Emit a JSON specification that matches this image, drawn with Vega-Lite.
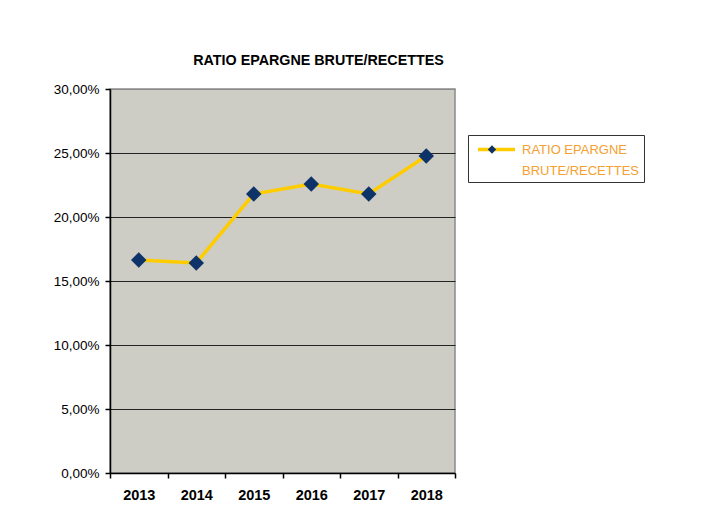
{
  "$schema": "https://vega.github.io/schema/vega-lite/v6.json",
  "autosize": {"type": "none"},
  "width": 345,
  "height": 384,
  "padding": {"left": 110, "top": 89, "right": 252, "bottom": 42},
  "background": "white",
  "title": {
    "text": "RATIO EPARGNE BRUTE/RECETTES",
    "font": "Liberation Sans",
    "fontSize": 14.3,
    "fontWeight": "bold",
    "color": "#000000",
    "anchor": "middle",
    "dx": 36,
    "offset": 14
  },
  "config": {
    "view": {"fill": "#CDCDC6", "stroke": "#8A8A8A", "strokeWidth": 1.5},
    "font": "Liberation Sans"
  },
  "data": {
    "values": [
      {"annee": "2013", "ratio": 16.64, "serie": "RATIO EPARGNE BRUTE/RECETTES"},
      {"annee": "2014", "ratio": 16.41, "serie": "RATIO EPARGNE BRUTE/RECETTES"},
      {"annee": "2015", "ratio": 21.80, "serie": "RATIO EPARGNE BRUTE/RECETTES"},
      {"annee": "2016", "ratio": 22.58, "serie": "RATIO EPARGNE BRUTE/RECETTES"},
      {"annee": "2017", "ratio": 21.80, "serie": "RATIO EPARGNE BRUTE/RECETTES"},
      {"annee": "2018", "ratio": 24.77, "serie": "RATIO EPARGNE BRUTE/RECETTES"}
    ]
  },
  "encoding": {
    "x": {
      "field": "annee",
      "type": "ordinal",
      "scale": {"paddingInner": 0, "paddingOuter": 0},
      "axis": {
        "title": null,
        "labelAngle": 0,
        "labelFont": "Liberation Sans",
        "labelFontSize": 14.5,
        "labelFontWeight": "bold",
        "labelColor": "#000000",
        "labelPadding": 10,
        "domainColor": "#000000",
        "domainWidth": 1.5,
        "tickColor": "#000000",
        "tickWidth": 1.5,
        "tickSize": 5,
        "tickBand": "extent",
        "grid": false
      }
    },
    "y": {
      "field": "ratio",
      "type": "quantitative",
      "scale": {"domain": [0, 30], "nice": false},
      "axis": {
        "title": null,
        "values": [0, 5, 10, 15, 20, 25, 30],
        "labelExpr": "replace(format(datum.value, '.2f'), '.', ',') + '%'",
        "labelFont": "Liberation Sans",
        "labelFontSize": 13.5,
        "labelColor": "#000000",
        "labelPadding": 6,
        "domainColor": "#000000",
        "domainWidth": 1.5,
        "tickColor": "#000000",
        "tickWidth": 1.5,
        "tickSize": 5,
        "grid": true,
        "gridColor": {"condition": {"test": "datum.value === 30 || datum.value === 0", "value": "#8A8A8A"}, "value": "#222222"},
        "gridWidth": 1.2
      }
    }
  },
  "layer": [
    {
      "mark": {"type": "line", "strokeWidth": 3.5},
      "encoding": {
        "stroke": {
          "field": "serie",
          "type": "nominal",
          "scale": {"range": ["#FFCC00"]},
          "legend": {
            "title": null,
            "orient": "none",
            "legendX": 358,
            "legendY": 46,
            "padding": 4,
            "symbolOffset": 4,
            "strokeColor": "#333333",
            "fillColor": "white",
            "symbolType": "stroke",
            "symbolSize": 1369,
            "symbolStrokeWidth": 3.5,
            "labelExpr": "['RATIO EPARGNE', 'BRUTE/RECETTES']",
            "labelFont": "Liberation Sans",
            "labelFontSize": 13,
            "labelColor": "#F5A030",
            "labelOffset": 5,
            "labelLimit": 300,
            "encode": {
              "labels": {"update": {"lineHeight": {"value": 21}, "dy": {"value": -10}}},
              "symbols": {"update": {"y": {"value": 10.5}}}
            }
          }
        }
      }
    },
    {
      "mark": {"type": "point", "shape": "diamond", "filled": true, "size": 240, "opacity": 1},
      "encoding": {
        "fill": {
          "field": "serie",
          "type": "nominal",
          "scale": {"range": ["#0E3369"]},
          "legend": {
            "title": null,
            "orient": "none",
            "legendX": 369,
            "legendY": 46,
            "padding": 4,
            "symbolOffset": 4,
            "symbolType": "diamond",
            "symbolSize": 70,
            "symbolStrokeWidth": 0,
            "symbolOpacity": 1,
            "labelExpr": "''",
            "encode": {
              "symbols": {"update": {"y": {"value": 10.5}}}
            }
          }
        }
      }
    }
  ]
}
